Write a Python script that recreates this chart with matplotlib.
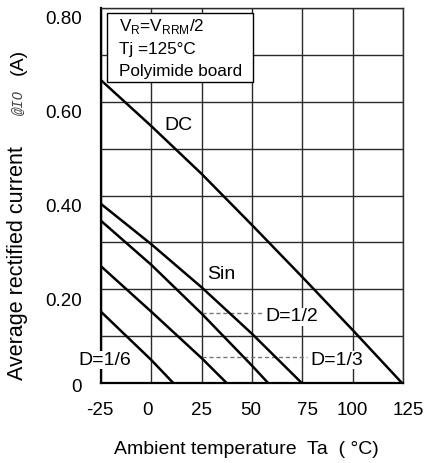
import matplotlib

matplotlib.use("Agg")

import matplotlib.pyplot as plt
import matplotlib.transforms as mtransforms
from matplotlib.patches import Rectangle

plt.rcParams["font.family"] = ["Liberation Sans", "DejaVu Sans"]
plt.rcParams["mathtext.fontset"] = "custom"
plt.rcParams["mathtext.rm"] = "Liberation Sans"
plt.rcParams["axes.unicode_minus"] = False

# derating curves: ambient temperature (degC) vs average rectified current (A)
ta_dc = [-25, 0, 25, 50, 75, 100, 124.5]
io_dc = [0.646, 0.548, 0.446, 0.337, 0.226, 0.113, 0.0]

ta_sin = [-25, 0, 25, 50, 74.7]
io_sin = [0.382, 0.296, 0.204, 0.105, 0.0]

ta_d12 = [-25, 0, 25, 50, 58.0]
io_d12 = [0.346, 0.252, 0.148, 0.037, 0.0]

ta_d13 = [-25, 0, 25, 37.4]
io_d13 = [0.249, 0.152, 0.053, 0.0]

ta_d16 = [-25, 0, 10.9]
io_d16 = [0.152, 0.049, 0.0]

x_ticks = [-25, 0, 25, 50, 75, 100, 125]
y_ticks = [0, 0.1, 0.2, 0.3, 0.4, 0.5, 0.6, 0.7, 0.8]
y_labels = ["0", "", "0.20", "", "0.40", "", "0.60", "", "0.80"]

# leader lines from the duty labels back to their curves
lead_d12 = ([25, 55.5], [0.149, 0.149])
lead_d13 = ([25, 77.3], [0.055, 0.055])

W, H = 428, 463
fig = plt.figure(figsize=(W / 100, H / 100), dpi=100)
ax = fig.add_axes([101 / W, 1 - 383 / H, 302 / W, 375 / H])
ax.set_xlim(-25, 125)
ax.set_ylim(0, 0.8)

ax.set_xticks(x_ticks)
ax.set_yticks(y_ticks)
ax.set_yticklabels(y_labels)
ax.tick_params(length=0, labelsize=13.5, colors="black")
ax.tick_params(axis="x", pad=14)
ax.tick_params(axis="y", pad=14)
ax.grid(True, color="#2a2a2a", lw=1.0)
ax.set_axisbelow(True)
for side in ["top", "right"]:
    ax.spines[side].set_linewidth(1.0)
    ax.spines[side].set_color("#2a2a2a")
for side in ["left", "bottom"]:
    ax.spines[side].set_linewidth(1.6)

# nudge tick labels a little, the printed scale is not quite centred
x_shift = [-1, -4, 0, -1, 5, 0, 5]
for lab, dx in zip(ax.get_xticklabels(), x_shift):
    lab.set_transform(lab.get_transform() + mtransforms.ScaledTranslation(dx / 100, 0, fig.dpi_scale_trans))
y_shift = [-3, 0, -10, 0, -10, 0, -10, 0, -9]
for lab, dy in zip(ax.get_yticklabels(), y_shift):
    lab.set_transform(lab.get_transform() + mtransforms.ScaledTranslation(0, dy / 100, fig.dpi_scale_trans))

for t, i in [(ta_dc, io_dc), (ta_sin, io_sin), (ta_d12, io_d12), (ta_d13, io_d13), (ta_d16, io_d16)]:
    ax.plot(t, i, color="black", lw=1.8, solid_capstyle="butt", solid_joinstyle="round", zorder=3)

for t, i in [lead_d12, lead_d13]:
    ax.plot(t, i, color="#777777", lw=1.0, ls=(0, (3, 2)), zorder=2)

lab_kw = dict(fontsize=14, va="center", zorder=4, clip_on=False,
              bbox=dict(facecolor="white", edgecolor="none", pad=0.5))
ax.text(13.3, 0.550, "DC", ha="center", **lab_kw)
ax.text(34.6, 0.232, "Sin", ha="center", **lab_kw)
ax.text(56.5, 0.141, "D=1/2", ha="left", **lab_kw)
ax.text(78.8, 0.049, "D=1/3", ha="left", **lab_kw)
ax.text(-36.4, 0.049, "D=1/6", ha="left", **lab_kw)

# condition box, top left
box_l, box_t, box_r, box_b = 107, 13, 253, 82
ax.add_patch(Rectangle((box_l / W, 1 - box_b / H), (box_r - box_l) / W, (box_b - box_t) / H,
                       transform=fig.transFigure, facecolor="white", edgecolor="black",
                       lw=1.0, zorder=5))
box_kw = dict(fontsize=12.3, va="baseline", zorder=6)
fig.text(119 / W, 1 - 31 / H, r"V$_\mathrm{R}$=V$_\mathrm{RRM}$/2", **box_kw)
fig.text(119 / W, 1 - 54 / H, "Tj =125°C", **box_kw)
fig.text(119 / W, 1 - 76 / H, "Polyimide board", **box_kw)

# axis titles
fig.text(246 / W, 1 - 449 / H, "Ambient temperature  Ta  ( °C)", fontsize=14,
         ha="center", va="center")
fig.text(18 / W, 1 - 263 / H, "Average rectified current", fontsize=15.5, rotation=90,
         ha="center", va="center")
fig.text(18 / W, 1 - 102 / H, "@IO", fontsize=10, rotation=90, ha="center", va="center",
         family=["Liberation Mono", "DejaVu Sans Mono"], style="italic", color="#444444")
fig.text(18 / W, 1 - 62 / H, "(A)", fontsize=14, rotation=90, ha="center", va="center")

fig.savefig("out.png", dpi=100)
